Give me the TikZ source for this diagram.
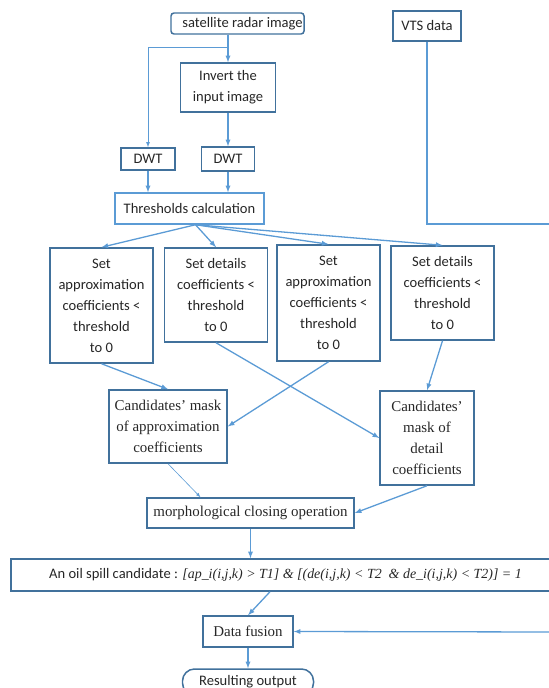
\documentclass[tikz,border=0pt]{standalone}
\usepackage{fontspec}
\setmainfont{Carlito}
\newfontfamily\timesfont{Liberation Serif}
\usepackage{tikz}
\definecolor{boxBlue}{HTML}{41719C}
\definecolor{lineBlue}{HTML}{5B9BD5}

\begin{document}
\begin{tikzpicture}
[x=1bp,y=-1bp,
  boxDecorate/.style={shape=rectangle,draw=boxBlue,line width=1.5pt,inner sep=1pt,align=center,text=black!85},%
  serifDecorate/.style={boxDecorate,font={\timesfont\fontsize{15}{21}\selectfont}},%
  arrowDecorate/.style={->,>=latex,draw=lineBlue,line width=1.3pt},%
  lineDecorate/.style={-,draw=lineBlue,line width=1.3pt}]
\fontsize{14.6}{21}\selectfont
\useasboundingbox (0,0) rectangle (549,688);
%% input nodes
\node (sat) at (237.5,23.5) [boxDecorate,rounded corners=3bp,minimum width=133bp,minimum height=21bp] {\hspace*{10bp}satellite radar image};
\node (vts) at (427,26) [boxDecorate,minimum width=68bp,minimum height=30bp] {VTS data};
\node (inv) at (228,87.5) [boxDecorate,minimum width=95bp,minimum height=49bp] {Invert the\\input image};
\node (dwtA) at (148,159) [boxDecorate,minimum width=54bp,minimum height=22bp] {DWT};
\node (dwtB) at (228,159) [boxDecorate,minimum width=53bp,minimum height=24bp] {DWT};
\node (thr) at (189.5,208.5) [boxDecorate,draw=lineBlue,minimum width=149bp,minimum height=31bp] {Thresholds calculation};
%% thresholding nodes
\foreach \nodename/\x/\y/\h/\txt in {setA/101.5/305.5/115/{Set\\approximation\\coefficients <\\threshold\\to 0},
  setB/216/295/94/{Set details\\coefficients <\\threshold\\to 0},
  setC/328.5/303/116/{Set\\approximation\\coefficients <\\threshold\\to 0},
  setD/442.5/293/94/{Set details\\coefficients <\\threshold\\to 0}}
{
  \node (\nodename) at (\x,\y) [boxDecorate,minimum width=103bp,minimum height=\h bp] {\txt};
}
%% mask and output nodes
\node (candA) at (168,426.5) [serifDecorate,minimum width=118bp,minimum height=73bp] {Candidates’ mask\\of approximation\\coefficients};
\node (candD) at (427,438) [serifDecorate,minimum width=94bp,minimum height=94bp] {Candidates’\\mask of\\detail\\coefficients};
\node (morph) at (250.5,513) [serifDecorate,minimum width=207bp,minimum height=30bp] {morphological closing operation};
\node (oil) at (285.5,575) [boxDecorate,minimum width=549bp,minimum height=32bp] {An oil spill candidate : {\timesfont\itshape\fontsize{14}{21}\selectfont [ap\_i(i,j,k) > T1] \& [(de(i,j,k) < T2~~\& de\_i(i,j,k) < T2)] = 1}};
\node (fus) at (248,631.5) [serifDecorate,minimum width=90bp,minimum height=31bp] {Data fusion};
\node (res) at (248,682) [boxDecorate,rounded corners=12bp,minimum width=131bp,minimum height=26bp] {Resulting output};
%% helper points
\coordinate (split) at (228,47);
\coordinate (vtsTurn) at (427,224);
\coordinate (edgeA) at (560,224);
\coordinate (edgeB) at (560,632);
%% edges or lines
\draw[arrowDecorate] (split|-sat.south) -- (split) -- (inv.north);
\draw[arrowDecorate,line width=0.8pt] (split) -| (dwtA.north);
\draw[lineDecorate] (vts.south) -- (vtsTurn) -- (edgeA) -- (edgeB);
\draw[arrowDecorate] (edgeB) -- (fus.east);
\path
\foreach \startnode/\endnode in {inv.south/dwtB.north, dwtA.south/thr.north-|dwtA.south, dwtB.south/thr.north-|dwtB.south,
  setA.south/candA.north, setB.south/candD.west, setC.south/candA.east, setD.south/candD.north,
  candD.south/morph.east, fus.south/res.north}
{
  (\startnode) edge[arrowDecorate] (\endnode)
};
\path
\foreach \endnode in {setA, setB, setC, setD}
{
  ([xshift=6bp]thr.south) edge[arrowDecorate] (\endnode.north)
};
\draw[arrowDecorate,line width=0.6pt] (candA.south) -- ([xshift=-50bp]morph.north);
\draw[arrowDecorate] (morph.south) -- (morph.south|-oil.north);
\draw[arrowDecorate] ([xshift=22bp]oil.south-|fus.south) -- (fus.north);
\end{tikzpicture}
\end{document}
